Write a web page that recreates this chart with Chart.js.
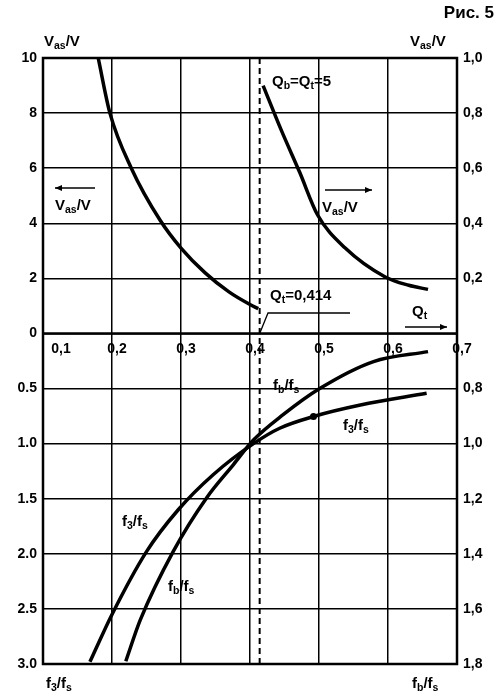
<!DOCTYPE html>
<html><head><meta charset="utf-8">
<script src="https://cdn.jsdelivr.net/npm/chart.js@4"></script>
<style>html,body{margin:0;padding:0;background:#fff}#w{width:499px;height:699px}</style>
</head><body><div id="w"><canvas id="c"></canvas></div>
<script>
// Data (Q = x axis)
const vasLeftQ = [0.180,0.197,0.228,0.270,0.300,0.335,0.370,0.400,0.412];
const vasLeftV = [10.0,8.0,6.0,4.1,3.1,2.2,1.5,1.05,0.9];
const vasRightQ = [0.419,0.445,0.472,0.498,0.538,0.596,0.630,0.658];
const vasRightV = [0.90,0.74,0.585,0.43,0.31,0.205,0.175,0.16];
const f3Q = [0.168,0.200,0.250,0.296,0.347,0.405,0.443,0.492,0.560,0.656];
const f3V = [2.98,2.55,1.98,1.60,1.28,1.00,0.86,0.754,0.65,0.543];
const fbQ = [0.220,0.241,0.289,0.337,0.376,0.405,0.448,0.501,0.579,0.658];
const fbV = [1.79,1.64,1.39,1.197,1.076,0.987,0.895,0.80,0.702,0.666];
const QtValue = 0.414;
const xTicks = [0.1,0.2,0.3,0.4,0.5,0.6,0.7];
const xTickLabels = ['0,1','0,2','0,3','0,4','0,5','0,6','0,7'];
const leftUpperTicks = [10,8,6,4,2,0];
const leftLowerTicks = [0.5,1.0,1.5,2.0,2.5,3.0];
const leftLowerLabels = ['0.5','1.0','1.5','2.0','2.5','3.0'];
const rightUpperTicks = [1.0,0.8,0.6,0.4,0.2];
const rightUpperLabels = ['1,0','0,8','0,6','0,4','0,2'];
const rightLowerTicks = [0.8,1.0,1.2,1.4,1.6,1.8];
const rightLowerLabels = ['0,8','1,0','1,2','1,4','1,6','1,8'];

const K = 4;
const upL = v => v;
const upR = w => w*10;
const loL = f => -f*K;
const loR = r => -(r-0.6)*2.5*K;

const pts = (qs, vs, fn) => qs.map((q,i)=>({x:q, y:fn(vs[i])}));
const lineDs = d => ({data:d, borderColor:'#000', borderWidth:3.5, pointRadius:0, cubicInterpolationMode:'monotone', fill:false});

const F = '"Liberation Sans", Arial, sans-serif';
function sub(ctx, x, y, parts, size){
  let cx = x;
  parts.forEach(p=>{
    ctx.font='bold '+(p[1]?size*0.7:size)+'px '+F;
    ctx.fillText(p[0], cx, p[1]? y+size*0.3 : y);
    cx += ctx.measureText(p[0]).width;
  });
}
function arrow(ctx,x1,y,x2){
  ctx.beginPath();ctx.moveTo(x1,y);ctx.lineTo(x2,y);ctx.lineWidth=1.5;ctx.stroke();
  const d = x2>x1?-1:1;
  ctx.beginPath();ctx.moveTo(x2,y);ctx.lineTo(x2+d*7,y-3);ctx.lineTo(x2+d*7,y+3);ctx.closePath();ctx.fill();
}

const deco = {
  id:'deco',
  afterDraw(chart){
    const ctx = chart.ctx, xs = chart.scales.x, ys = chart.scales.y, a = chart.chartArea;
    ctx.save();
    ctx.fillStyle='#000'; ctx.strokeStyle='#000';
    ctx.lineWidth=2.5; ctx.strokeRect(a.left,a.top,a.right-a.left,a.bottom-a.top);
    ctx.beginPath(); ctx.moveTo(a.left,ys.getPixelForValue(0)); ctx.lineTo(a.right,ys.getPixelForValue(0)); ctx.stroke();
    ctx.textBaseline='middle';
    ctx.font='bold 14px '+F; ctx.textAlign='center';
    xTicks.forEach((t,i)=>ctx.fillText(xTickLabels[i], xs.getPixelForValue(t)+ (i===0?18:5), ys.getPixelForValue(0)+16));
    ctx.textAlign='right';
    leftUpperTicks.forEach(t=>ctx.fillText(String(t), a.left-6, ys.getPixelForValue(upL(t))));
    leftLowerTicks.forEach((t,i)=>ctx.fillText(leftLowerLabels[i], a.left-6, ys.getPixelForValue(loL(t))));
    ctx.textAlign='left';
    rightUpperTicks.forEach((t,i)=>ctx.fillText(rightUpperLabels[i], a.right+6, ys.getPixelForValue(upR(t))));
    rightLowerTicks.forEach((t,i)=>ctx.fillText(rightLowerLabels[i], a.right+6, ys.getPixelForValue(loR(t))));
    ctx.font='bold 17px '+F; ctx.textAlign='right'; ctx.fillText('Рис. 5', 494, 13);
    ctx.textAlign='left';
    sub(ctx, 44, 42, [['V',0],['as',1],['/V',0]], 15);
    sub(ctx, 410, 42, [['V',0],['as',1],['/V',0]], 15);
    sub(ctx, 272, 82, [['Q',0],['b',1],['=Q',0],['t',1],['=5',0]], 15);
    sub(ctx, 55, 206, [['V',0],['as',1],['/V',0]], 15);
    arrow(ctx, 95, 188, 55);
    sub(ctx, 322, 208, [['V',0],['as',1],['/V',0]], 15);
    arrow(ctx, 325, 190, 372);
    sub(ctx, 270, 296, [['Q',0],['t',1],['=0,414',0]], 15);
    ctx.lineWidth=1.3;
    ctx.beginPath(); ctx.moveTo(xs.getPixelForValue(QtValue), ys.getPixelForValue(0)); ctx.lineTo(268,313); ctx.lineTo(350,313); ctx.stroke();
    sub(ctx, 412, 312, [['Q',0],['t',1]], 15);
    arrow(ctx, 405, 327, 447);
    sub(ctx, 273, 386, [['f',0],['b',1],['/f',0],['s',1]], 15);
    sub(ctx, 343, 426, [['f',0],['3',1],['/f',0],['s',1]], 15);
    sub(ctx, 122, 522, [['f',0],['3',1],['/f',0],['s',1]], 15);
    sub(ctx, 168, 587, [['f',0],['b',1],['/f',0],['s',1]], 15);
    sub(ctx, 46, 684, [['f',0],['3',1],['/f',0],['s',1]], 15);
    sub(ctx, 412, 684, [['f',0],['b',1],['/f',0],['s',1]], 15);
    ctx.beginPath(); ctx.arc(xs.getPixelForValue(f3Q[7]), ys.getPixelForValue(loL(f3V[7])), 3.5, 0, Math.PI*2); ctx.fill();
    ctx.restore();
  }
};

const yGridTicks = [...leftUpperTicks.map(upL), ...leftLowerTicks.map(loL)];

new Chart(document.getElementById('c'), {
  type:'line',
  data:{datasets:[
    lineDs(pts(vasLeftQ, vasLeftV, upL)),
    lineDs(pts(vasRightQ, vasRightV, upR)),
    lineDs(pts(f3Q, f3V, loL)),
    lineDs(pts(fbQ, fbV, loR)),
    {data:[{x:QtValue,y:upL(10)},{x:QtValue,y:loL(3)}], borderColor:'#000', borderWidth:2, borderDash:[6,4], pointRadius:0}
  ]},
  options:{
    responsive:true, maintainAspectRatio:false, animation:false,
    layout:{padding:{left:43,right:42,top:58,bottom:35}},
    plugins:{legend:{display:false}, tooltip:{enabled:false}},
    scales:{
      x:{type:'linear', min:0.1, max:0.7, ticks:{display:false, stepSize:0.1},
         afterBuildTicks: s=>{s.ticks = xTicks.map(v=>({value:v}));},
         grid:{color:'#000', lineWidth:1.5, drawTicks:false}, border:{display:false}},
      y:{type:'linear', min:loL(3), max:upL(10), ticks:{display:false},
         afterBuildTicks: s=>{s.ticks = yGridTicks.map(v=>({value:v}));},
         grid:{color:'#000', lineWidth:1.5, drawTicks:false}, border:{display:false}}
    }
  },
  plugins:[deco]
});
</script></body></html>
